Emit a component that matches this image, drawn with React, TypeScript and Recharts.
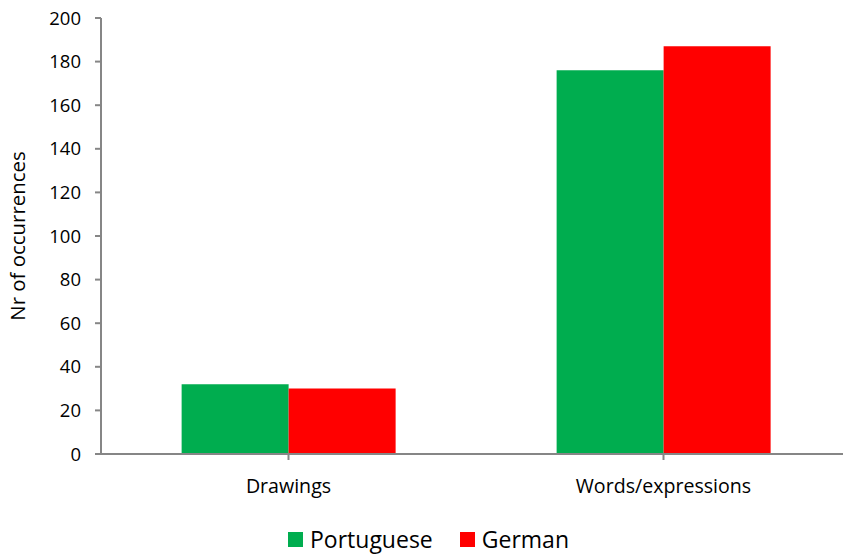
import React from 'react';
import { BarChart, Bar, XAxis, YAxis, Legend } from 'recharts';

const categories = ['Drawings', 'Words/expressions'];
const portuguese = [32, 176];
const german = [30, 187];
const yTicks = [0, 20, 40, 60, 80, 100, 120, 140, 160, 180, 200];
const seriesNames = ['Portuguese', 'German'];
const seriesColors = ['#00AD4F', '#FF0000'];

const data = categories.map((name, i) => ({ name, Portuguese: portuguese[i], German: german[i] }));

const FONT = '"Open Sans", sans-serif';
const AXIS = '#868686';

function YLabel(props: any) {
  const vb = props.viewBox;
  const cx = 17;
  const cy = vb.y + vb.height / 2;
  return (
    <text x={cx} y={cy} transform={`rotate(-90, ${cx}, ${cy})`} textAnchor="middle" dominantBaseline="central"
      fontFamily={FONT} fontSize={20.4} fill="#000">
      Nr of occurrences
    </text>
  );
}

function LegendContent() {
  return (
    <div style={{ display: 'flex', justifyContent: 'center', fontFamily: FONT, fontSize: 23, color: '#000', paddingTop: 19, paddingLeft: 6 }}>
      {seriesNames.map((n, i) => (
        <div key={n} style={{ display: 'flex', alignItems: 'center', marginRight: i === 0 ? 27 : 0 }}>
          <span style={{ width: 15, height: 15, background: seriesColors[i], display: 'inline-block', marginRight: 7 }} />
          <span>{n}</span>
        </div>
      ))}
    </div>
  );
}

export default function App() {
  return (
    <div style={{ position: 'absolute', left: 0, top: 0, width: 843, height: 557, background: '#fff' }}>
      <BarChart width={843} height={557} data={data} margin={{ top: 18, right: -8, left: 0, bottom: 0 }}
        barCategoryGap="21.5%" barGap={0}>
        <XAxis dataKey="name" stroke={AXIS} strokeWidth={2} tickSize={6} tickMargin={19} height={50}
          tick={{ fill: '#000', fontSize: 19.6, fontFamily: FONT }} interval={0} />
        <YAxis domain={[0, 200]} ticks={yTicks} width={101} stroke={AXIS} strokeWidth={2} tickSize={6} tickMargin={14}
          tick={{ fill: '#000', fontSize: 18.5, fontFamily: FONT }} label={<YLabel />} allowDataOverflow />
        <Legend verticalAlign="bottom" height={53} content={<LegendContent />} />
        <Bar dataKey="Portuguese" name={seriesNames[0]} fill={seriesColors[0]} isAnimationActive={false} />
        <Bar dataKey="German" name={seriesNames[1]} fill={seriesColors[1]} isAnimationActive={false} />
      </BarChart>
    </div>
  );
}
